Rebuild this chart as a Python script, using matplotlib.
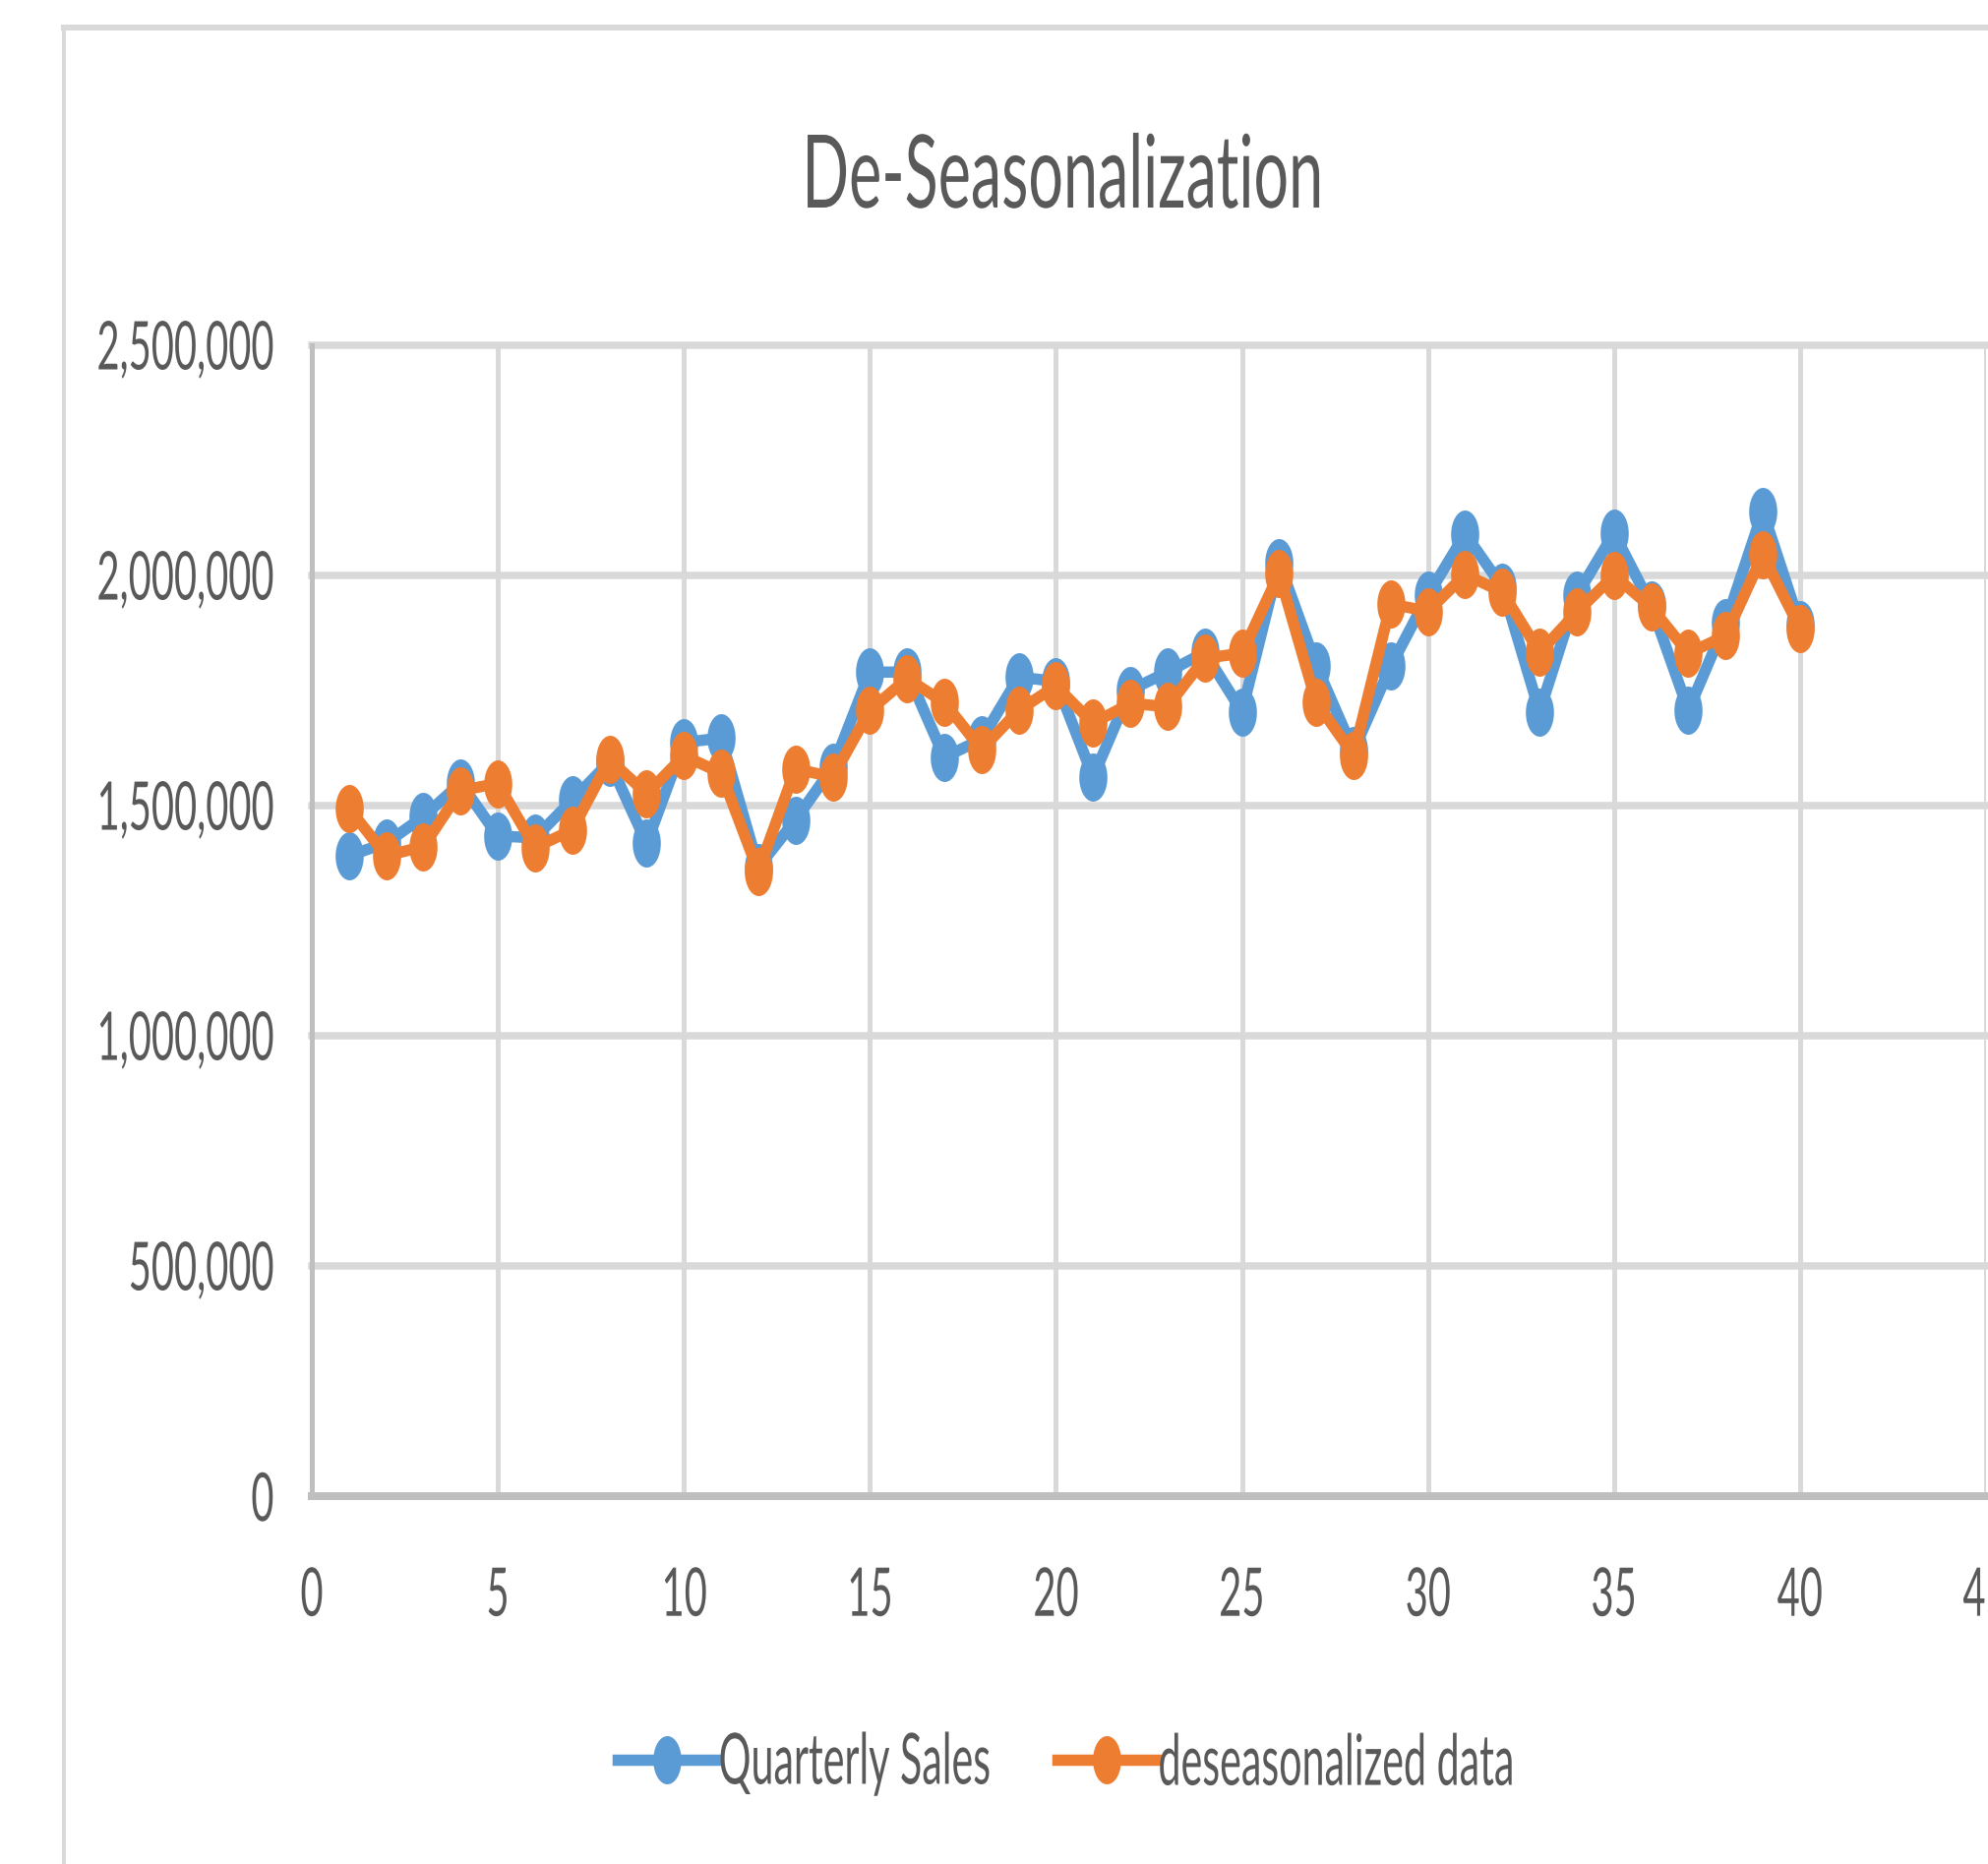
import numpy as np
import matplotlib
matplotlib.use("Agg")
import matplotlib.pyplot as plt
from matplotlib.path import Path
from matplotlib.transforms import Affine2D
from matplotlib.patheffects import AbstractPathEffect
from matplotlib.lines import Line2D
from matplotlib.ticker import FuncFormatter
from matplotlib.textpath import TextPath
from matplotlib.font_manager import FontProperties, fontManager

# ---------------- data ----------------
quarters = list(range(1, 41))
quarterly_sales = [
    1391000, 1419000, 1476000, 1549000, 1434000, 1430000, 1512000, 1595000,
    1418000, 1637000, 1647000, 1366000, 1469000, 1583000, 1790000, 1790000,
    1605000, 1644000, 1779000, 1770000, 1562000, 1751000, 1790000, 1833000,
    1704000, 2028000, 1804000, 1619000, 1803000, 1957000, 2090000, 1975000,
    1704000, 1957000, 2092000, 1935000, 1707000, 1897000, 2139000, 1893000,
]
deseasonalized_data = [
    1494000, 1391000, 1411000, 1533000, 1548000, 1409000, 1447000, 1600000,
    1526000, 1608000, 1571000, 1357000, 1580000, 1562000, 1707000, 1776000,
    1724000, 1622000, 1707000, 1760000, 1679000, 1722000, 1715000, 1820000,
    1831000, 2004000, 1724000, 1610000, 1938000, 1922000, 2002000, 1964000,
    1833000, 1920000, 2000000, 1931000, 1831000, 1869000, 2045000, 1885000,
]
series_names = ["Quarterly Sales", "deseasonalized data"]
chart_title = "De-Seasonalization"
x_ticks = [0, 5, 10, 15, 20, 25, 30, 35, 40, 45]
y_ticks = [0, 500000, 1000000, 1500000, 2000000, 2500000]

# ---------------- style ----------------
W, H, DPI = 2021, 1895, 100


def pt(px):
    return px * 72.0 / DPI


available = {f.name for f in fontManager.ttflist}
FAMILY = [f for f in ["Lato", "Open Sans", "Roboto"] if f in available] + ["DejaVu Sans"]
WEIGHT = "normal"
plt.rcParams["font.family"] = FAMILY
plt.rcParams["font.weight"] = WEIGHT
FP = FontProperties(family=FAMILY, weight=WEIGHT)

TEXT_C = "#595959"
GRID_C = "#D9D9D9"
AXIS_C = "#BFBFBF"
BLUE = "#5B9BD5"
ORANGE = "#ED7D31"


def ink(s):
    """ink extents of string s at em size 1"""
    return TextPath((0, 0), s, size=1, prop=FP).get_extents()


class Stretch(AbstractPathEffect):
    """Draw text glyphs narrowed / heightened like the reference's squeezed type."""

    def __init__(self, sx, sy, ha="center", anchor="ink"):
        super().__init__()
        self.sx, self.sy, self.ha, self.anchor = sx, sy, ha, anchor

    def draw_path(self, renderer, gc, tpath, affine, rgbFace=None):
        e = tpath.get_extents()
        cx = {"left": e.x0, "center": 0.5 * (e.x0 + e.x1), "right": e.x1}[self.ha]
        cy = 0.0 if self.anchor == "base" else 0.5 * (e.y0 + e.y1)
        t = Affine2D().translate(-cx, -cy).scale(self.sx, self.sy).translate(cx, cy)
        renderer.draw_path(gc, tpath, t + affine, rgbFace)


# tick label type: em 58 px, digits 50 px tall, "2,500,000" 177 px wide
TICK_EM = 58.0
tick_sy = 50.0 / (ink("0").height * TICK_EM)
tick_sx = 177.0 / (ink("2,500,000").width * TICK_EM)
# title type
TITLE_EM = 88.0
title_sy = 74.0 / (ink("D").height * TITLE_EM)
title_sx = 520.0 / (ink(chart_title).width * TITLE_EM)
# legend type
LEG_EM = 58.0
leg_sy = 53.0 / (ink("l").height * LEG_EM)
leg_sx = 273.0 / (ink(series_names[0]).width * LEG_EM)

# tall elliptical marker
th = np.linspace(0, 2 * np.pi, 73)
ellipse = Path(np.column_stack([0.5 * 28 / 48 * np.cos(th), 0.5 * np.sin(th)]), closed=True)

fig = plt.figure(figsize=(W / DPI, H / DPI), dpi=DPI)
fig.patch.set_facecolor("white")

# chart-area border (left and top edges visible; the rest is cut off)
fig.add_artist(Line2D([65 / W, 65 / W], [0, 1 - 28 / H], transform=fig.transFigure,
                      color=GRID_C, lw=pt(4)))
fig.add_artist(Line2D([65 / W, 1.0], [1 - 28 / H, 1 - 28 / H], transform=fig.transFigure,
                      color=GRID_C, lw=pt(6)))

ax = fig.add_axes([317 / W, (H - 1521) / H, (2019 - 317) / W, (1521 - 351) / H])

h1, = ax.plot(quarters, quarterly_sales, color=BLUE, lw=pt(11.5), marker=ellipse,
              ms=pt(49), mew=0, solid_joinstyle="round", zorder=3, label=series_names[0])
h2, = ax.plot(quarters, deseasonalized_data, color=ORANGE, lw=pt(11.5), marker=ellipse,
              ms=pt(49), mew=0, solid_joinstyle="round", zorder=4, label=series_names[1])

ax.set_xlim(0, 45)
ax.set_ylim(0, 2500000)
ax.set_xticks(x_ticks)
ax.set_yticks(y_ticks)
ax.yaxis.set_major_formatter(FuncFormatter(lambda v, p: f"{v:,.0f}"))

ax.set_axisbelow(True)
ax.yaxis.grid(True, color=GRID_C, lw=pt(7.5))
ax.xaxis.grid(True, color=GRID_C, lw=pt(5))
for gl in ax.get_ygridlines():
    gl.set_clip_on(False)

for s in ("top", "right"):
    ax.spines[s].set_visible(False)
ax.spines["left"].set_color(AXIS_C)
ax.spines["left"].set_linewidth(pt(5))
ax.spines["bottom"].set_color(AXIS_C)
ax.spines["bottom"].set_linewidth(pt(8))

ax.tick_params(length=0, labelsize=pt(TICK_EM), labelcolor=TEXT_C)
ax.tick_params(axis="y", pad=pt(38))
ax.tick_params(axis="x", pad=pt(75))
for t in ax.get_yticklabels():
    t.set_path_effects([Stretch(tick_sx, tick_sy, ha="right")])
for t in ax.get_xticklabels():
    t.set_path_effects([Stretch(tick_sx, tick_sy, ha="center")])

# title
ttl = fig.suptitle(chart_title, x=1080 / W, y=1 - 211 / H, ha="center", va="baseline",
                   fontsize=pt(TITLE_EM), color=TEXT_C, fontweight=WEIGHT)
ttl.set_path_effects([Stretch(title_sx, title_sy, ha="center", anchor="base")])

# legend (one entry per box so the narrowed labels sit like the reference)
for handle, name, x0 in ((h1, series_names[0], 628), (h2, series_names[1], 1075)):
    leg = fig.legend(handles=[handle], labels=[name], loc="center left",
                     bbox_to_anchor=(x0 / W, 1 - 1793 / H), frameon=False,
                     borderpad=0, borderaxespad=0, handlelength=100 / LEG_EM,
                     handletextpad=0.03, fontsize=pt(LEG_EM), labelcolor=TEXT_C)
    for t in leg.get_texts():
        t.set_path_effects([Stretch(leg_sx, leg_sy, ha="left")])

fig.savefig("out.png", dpi=DPI, facecolor="white")
